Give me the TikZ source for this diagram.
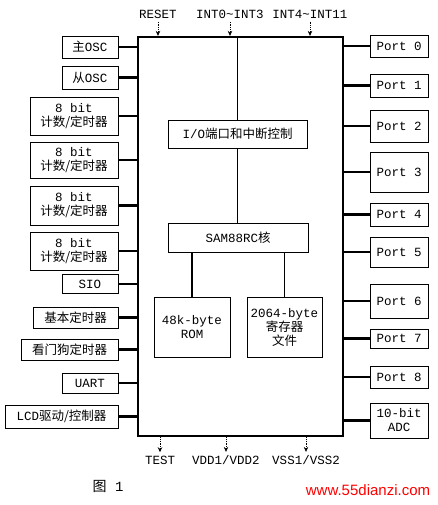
\documentclass[tikz,border=0pt]{standalone}
\usepackage{fontspec}
\setmainfont{Liberation Mono}
\newfontfamily\cjk{Noto Sans CJK SC}
\newfontfamily\wmfont{Liberation Sans}
\usetikzlibrary{arrows.meta,positioning}
\newcommand{\zh}[1]{{\cjk #1}}

\begin{document}
\begin{tikzpicture}[x=1pt,y=-1pt,font=\fontsize{12.5}{14}\selectfont,
   blk/.style={draw,line width=2.2pt,inner sep=0pt},
   unit/.style={draw,line width=0.8pt,inner sep=0pt,align=center},
   bus/.style={line width=2.6pt},
   link/.style={line width=1.7pt},
   pin/.style={densely dotted,thick,-{Stealth[length=5pt,width=4.5pt]}}]
  \useasboundingbox (0,0) rectangle (437,505);
  % main chip
  \node[blk,minimum width=205pt,minimum height=399pt] (mcu) at (240.5,236.5) {};
  % left side blocks
  \node[unit,minimum width=56pt,minimum height=22pt] (osc1) at (90,47) {\zh{主}OSC};
  \node[unit,minimum width=56pt,minimum height=23pt] (osc2) at (90,77.5) {\zh{从}OSC};
  \foreach \i/\y/\h in {1/116/38,2/160/36,3/205.5/39,4/251/38}
    \node[unit,minimum width=88pt,minimum height=\h pt] (tm\i) at (74,\y) {8 bit\\\zh{计数/定时器}};
  \node[unit,minimum width=56pt,minimum height=19pt] (sio) at (90,284) {SIO};
  \node[unit,minimum width=85pt,minimum height=21pt] (bt) at (75.5,317.5) {\zh{基本定时器}};
  \node[unit,minimum width=97pt,minimum height=21pt] (wdt) at (69.5,349.5) {\zh{看门狗定时器}};
  \node[unit,minimum width=56pt,minimum height=20pt] (uart) at (90,383) {UART};
  \node[unit,minimum width=113pt,minimum height=23pt] (lcd) at (61.5,416.5) {LCD\zh{驱动/控制器}};
  \foreach \n in {osc1,osc2,tm1,tm2,tm3,tm4,sio,bt,wdt,uart,lcd}
    \draw[bus] (\n.east) -- (\n.east -| mcu.west);
  % right side ports
  \foreach \i/\y/\h in {0/46/22,1/85.5/23,2/126/32,3/172/40,4/214.5/23,5/252/30,6/301/34,7/338.5/19,8/377/22}
    \node[unit,minimum width=58pt,minimum height=\h pt] (p\i) at (399,\y) {Port \i};
  \node[unit,minimum width=58pt,minimum height=35pt] (adc) at (399,420.5) {10-bit\\ADC};
  \foreach \n in {p0,p1,p2,p3,p4,p5,p6,p7,p8,adc}
    \draw[bus] (\n.west) -- (\n.west -| mcu.east);
  % inside the chip
  \node[unit,minimum width=139pt,minimum height=28pt] (io) at (237.5,134) {I/O\zh{端口和中断控制}};
  \node[unit,minimum width=140pt,minimum height=29pt] (core) at (238,237.5) {SAM88RC\zh{核}};
  \node[unit,minimum width=76pt,minimum height=60pt] (rom) at (192,327) {48k-byte\\ROM};
  \node[unit,minimum width=75pt,minimum height=60pt] (reg) at (284.5,327) {2064-byte\\\zh{寄存器}\\\zh{文件}};
  \draw[link] (io.north |- mcu.north) -- (io.north);
  \draw[link] (io.south) -- (io.south |- core.north);
  \draw[link] (rom.north) -- (rom.north |- core.south);
  \draw[link] (reg.north) -- (reg.north |- core.south);
  % pins
  \node (rst) at (158,14) {RESET};
  \node (int0) at (230,14) {INT0\textasciitilde INT3};
  \node (int4) at (310,14) {INT4\textasciitilde INT11};
  \foreach \n in {rst,int0,int4}
    \draw[pin] (\n.south) -- (\n.south |- mcu.north);
  \node (tst) at (160,460) {TEST};
  \node (vdd) at (226,460) {VDD1/VDD2};
  \node (vss) at (306,460) {VSS1/VSS2};
  \foreach \n in {tst,vdd,vss}
    \draw[pin] (\n.north |- mcu.south) -- (\n.north);
  % caption
  \node[font=\fontsize{14}{16}\selectfont] (cap) at (108,486) {\zh{图} 1};
  \node[text=red,font=\wmfont\fontsize{15}{17}\selectfont] (wm) at (368,490) {www.55dianzi.com};
\end{tikzpicture}
\end{document}
